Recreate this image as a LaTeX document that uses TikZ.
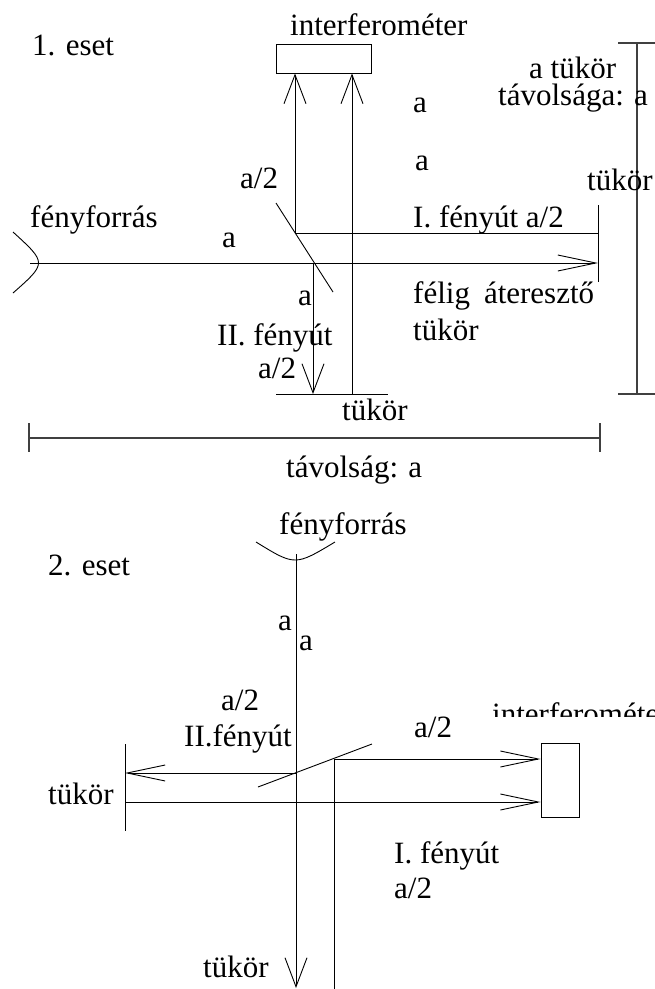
\documentclass[tikz,border=0pt]{standalone}
\usepackage{fontspec}
\setmainfont{Liberation Serif}
\usetikzlibrary{arrows.meta,positioning}

\begin{document}
\begin{tikzpicture}[x=1pt,y=-1pt,
    every node/.style={font=\fontsize{31}{37}\selectfont,inner sep=0pt,anchor=base west},
    beam/.style={line width=0.9pt},
    harrow/.style={beam,-{Straight Barb[length=38pt,width=16pt]}},
    varrow/.style={beam,-{Straight Barb[length=29pt,width=22pt]}},
    dim/.style={line width=1.3pt,black!75}]
    \useasboundingbox (0,0) rectangle (655,989);

    % 1. eset
    \node (title1) at (32,55) {1. eset};
    \node (ifmtxt1) at (290,35) {interferométer};
    \node[draw,beam,minimum width=95pt,minimum height=29pt,anchor=center] (ifm1) at (323.5,58.5) {};
    \coordinate (src1) at (30,263);
    \coordinate (bs1a) at (276,203);
    \coordinate (bs1b) at (333,292);
    \coordinate (p1) at (295,233);
    \coordinate (p2) at (313,263);
    \coordinate (m1a) at (598,205);
    \coordinate (m1b) at (598,282);
    \coordinate (m2a) at (276,394);
    \coordinate (m2b) at (388,394);
    \coordinate (r1) at (352,394);

    \draw[beam] (13,232) .. controls (47,263) .. (13,293);
    \draw[beam] (bs1a) -- (bs1b);
    \draw[beam] (m1a) -- (m1b);
    \draw[beam] (m2a) -- (m2b);
    \draw[harrow] (src1) -- (src1 -| m1a);
    \draw[beam] (p1) -- (p1 -| m1a);
    \draw[varrow] (p1) -- (p1 |- ifm1.south);
    \draw[varrow] (r1) -- (r1 |- ifm1.south);
    \draw[varrow] (p2) -- (p2 |- m2a);

    % distances
    \draw[dim] (637,43) -- (637,394);
    \draw[dim] (29,438) -- (600,438);
    \foreach \y in {43,394} {
        \draw[dim] (618,\y) -- (655,\y);
    }
    \foreach \x in {29,600} {
        \draw[dim] (\x,423) -- (\x,452);
    }

    \node (la1) at (413,112) {a};
    \node (la2) at (415,170) {a};
    \node (ltav1) at (529,78) {a tükör};
    \node (ltav2) at (498,105) {távolsága: a};
    \node (lm1) at (587,190) {tükör};
    \node (lh1) at (240,188) {a/2};
    \node (lsrc1) at (30,227) {fényforrás};
    \node (lpath1) at (413,227) {I. fényút a/2};
    \node (la3) at (222,247) {a};
    \node (la4) at (298,305) {a};
    \node (lpath2) at (217,345) {II. fényút};
    \node (lh2) at (258,378) {a/2};
    \node (lbs1) at (413,303) {félig\hspace{14pt}áteresztő};
    \node (lbs2) at (413,340) {tükör};
    \node (lm2) at (342,420) {tükör};
    \node (ldist) at (286,477) {távolság: a};

    % 2. eset
    \node (title2) at (48,575) {2. eset};
    \node (lsrc2) at (279,534) {fényforrás};
    \begin{scope}
        \clip (480,690) rectangle (655,716);
        \node (ifmtxt2) at (492,724) {interferométer};
    \end{scope}
    \node[draw,beam,minimum width=38pt,minimum height=74pt,anchor=center] (ifm2) at (560,780) {};
    \coordinate (src2) at (296,554);
    \coordinate (bs2a) at (258,787);
    \coordinate (bs2b) at (372,744);
    \coordinate (q1) at (334,759);
    \coordinate (q2) at (296,773);
    \coordinate (m3a) at (125,744);
    \coordinate (m3b) at (125,831);
    \coordinate (r2) at (125,802);
    \coordinate (end2) at (296,988);
    \coordinate (end1) at (334,989);

    \draw[beam] (256,542) .. controls (295,566) .. (335,542);
    \draw[beam] (bs2a) -- (bs2b);
    \draw[beam] (m3a) -- (m3b);
    \draw[varrow] (src2) -- (end2);
    \draw[harrow] (q1) -- (q1 -| ifm2.west);
    \draw[harrow] (q2) -- (q2 -| m3a);
    \draw[harrow] (r2) -- (r2 -| ifm2.west);
    \draw[beam] (q1) -- (end1);

    \node (la5) at (278,630) {a};
    \node (la6) at (299,650) {a};
    \node (lh3) at (221,710) {a/2};
    \node (lpath3) at (184,746) {II.fényút};
    \node (lh4) at (414,737) {a/2};
    \node (lm3) at (48,804) {tükör};
    \node (lpath4) at (394,863) {I. fényút};
    \node (lh5) at (394,898) {a/2};
    \node (lm4) at (203,977) {tükör};
\end{tikzpicture}
\end{document}
